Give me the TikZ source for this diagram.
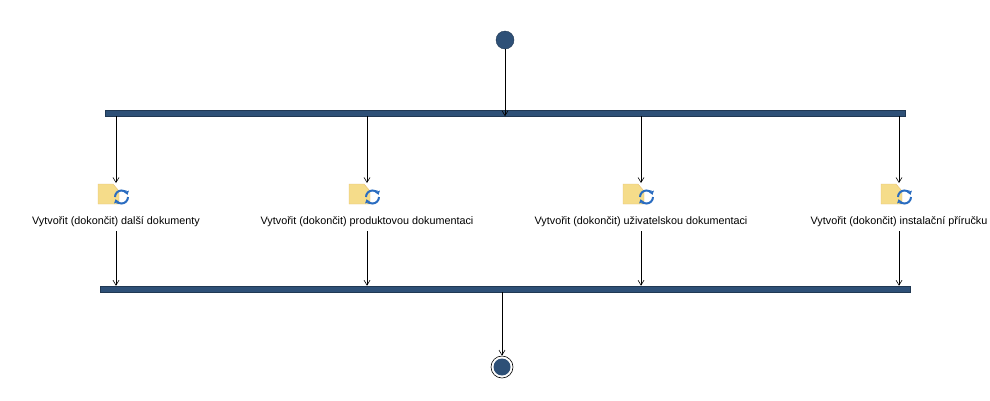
\documentclass[tikz,border=0pt]{standalone}
\usepackage{fontspec}
\setmainfont{Liberation Sans}
\usetikzlibrary{arrows.meta}
\definecolor{barblue}{HTML}{2E5077}
\definecolor{noteyel}{HTML}{F5DC8A}
\definecolor{arrblue}{HTML}{2A6CC0}
\tikzset{x=1pt,y=-1pt,
  bar/.style={fill=barblue,draw=barblue!70!black,line width=0.5pt},
  flow/.style={-{Straight Barb[length=5pt,width=6pt]},line width=0.6pt},
  lbl/.style={font=\fontsize{10.8}{13}\selectfont,inner sep=0pt}}
\newcommand{\actico}[2]{%
  \begin{scope}[shift={(#1,#2)}]
    \fill[noteyel,draw=noteyel!70!brown] (-18,-11) -- (-3,-11) -- (3,-4) -- (3,9) -- (-18,9) -- cycle;
    \draw[arrblue,line width=2pt,-{Triangle[length=3.5pt,width=5pt]}] (12,2) arc (0:160:6.5);
    \draw[arrblue,line width=2pt,-{Triangle[length=3.5pt,width=5pt]}] (-1,2) arc (180:340:6.5);
  \end{scope}}
\begin{document}
\begin{tikzpicture}
\useasboundingbox (0,0) rectangle (990,400);
\node[circle,fill=barblue,draw=barblue!70!black,minimum size=18pt,inner sep=0pt] (start) at (505,40) {};
\node[bar,minimum width=800pt,minimum height=6pt,inner sep=0pt] (fork) at (505,113) {};
\node[bar,minimum width=810pt,minimum height=6pt,inner sep=0pt] (join) at (505,289) {};
\node[circle,draw=black,line width=0.6pt,minimum size=22pt,inner sep=0pt] (end) at (502,367) {};
\fill[barblue] (end.center) circle (8.5pt);
\draw[flow] (start) -- (fork.south -| start);
\draw[flow] (join.south -| end) -- (end);
\foreach \n/\x/\t in {a/116/Vytvořit (dokončit) další dokumenty,
                      b/367/Vytvořit (dokončit) produktovou dokumentaci,
                      c/641/Vytvořit (dokončit) uživatelskou dokumentaci,
                      d/899/Vytvořit (dokončit) instalační příručku}{
  \coordinate (i\n) at (\x,183);
  \actico{\x}{195}
  \node[lbl] (l\n) at (\x,222) {\t};
  \coordinate (b\n) at (\x,231);
  \draw[flow] (fork.south -| i\n) -- (i\n);
  \draw[flow] (b\n) -- (join.north -| b\n);
}
\end{tikzpicture}
\end{document}
